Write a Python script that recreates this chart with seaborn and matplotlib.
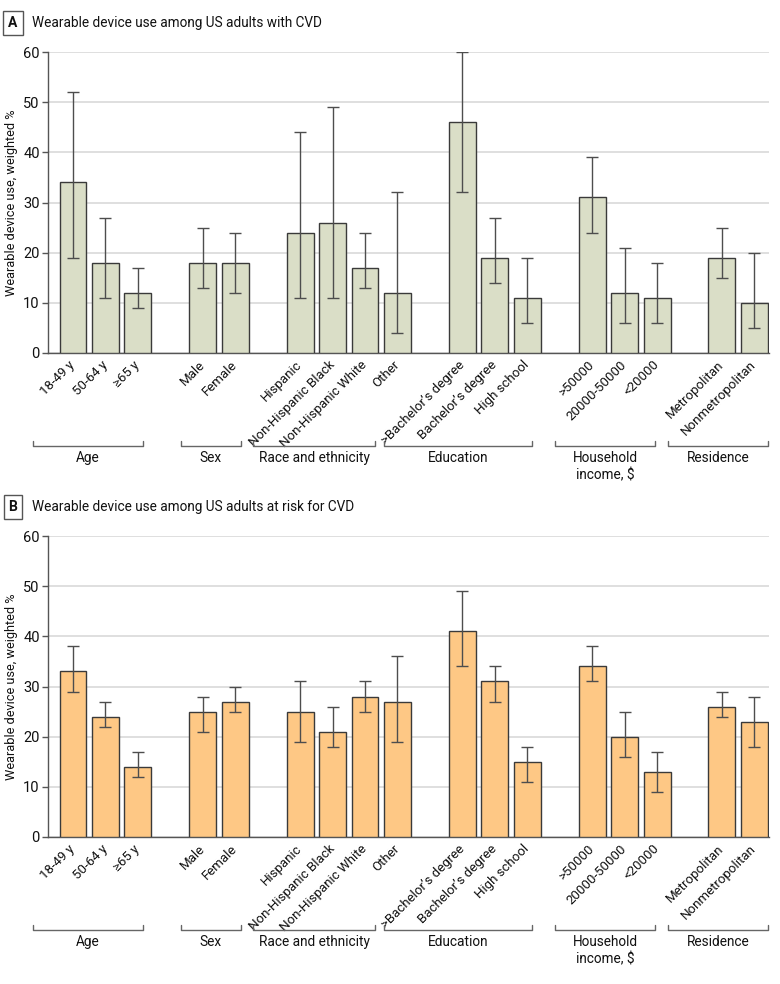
import matplotlib
matplotlib.use('Agg')
import matplotlib.pyplot as plt
import matplotlib.transforms as mtransforms
import seaborn as sns
import pandas as pd

# 分组与类别
groups = ['Age', 'Sex', 'Race and ethnicity', 'Education', 'Household\nincome, $', 'Residence']
group_items = [
    ['18-49 y', '50-64 y', '≥65 y'],
    ['Male', 'Female'],
    ['Hispanic', 'Non-Hispanic Black', 'Non-Hispanic White', 'Other'],
    ['>Bachelor’s degree', 'Bachelor’s degree', 'High school'],
    ['>50000', '20000-50000', '<20000'],
    ['Metropolitan', 'Nonmetropolitan'],
]

# A: adults with CVD
cvd_pct = [34, 18, 12, 18, 18, 24, 26, 17, 12, 46, 19, 11, 31, 12, 11, 19, 10]
cvd_low = [19, 11, 9, 13, 12, 11, 11, 13, 4, 32, 14, 6, 24, 6, 6, 15, 5]
cvd_high = [52, 27, 17, 25, 24, 44, 49, 24, 32, 60, 27, 19, 39, 21, 18, 25, 20]

# B: adults at risk for CVD
risk_pct = [33, 24, 14, 25, 27, 25, 21, 28, 27, 41, 31, 15, 34, 20, 13, 26, 23]
risk_low = [29, 22, 12, 21, 25, 19, 18, 25, 19, 34, 27, 11, 31, 16, 9, 24, 18]
risk_high = [38, 27, 17, 28, 30, 31, 26, 31, 36, 49, 34, 18, 38, 25, 17, 29, 28]

# 分组括号的横向范围（数据坐标）
bracket_span = [(-1.23, 2.15), (3.32, 5.17), (5.54, 9.32), (9.6, 14.15), (14.86, 17.94), (18.34, 21.42)]

sns.set_theme(style='white')
FONT = ['Roboto', 'DejaVu Sans']
plt.rcParams['font.family'] = FONT
TXT = '#111111'

# 类别顺序，组间插入空位
order = []
labels = []
for gi, items in enumerate(group_items):
    if gi > 0:
        order.append(' ' * gi)
    order += items
    labels += items
pos = [order.index(lab) for lab in labels]


def draw_panel(ax, pct, low, high, color, letter, title, fig):
    df = pd.DataFrame({'label': labels, 'pct': pct})
    sns.barplot(data=df, x='label', y='pct', order=order, color=color, saturation=1,
                edgecolor='#3a3a3a', linewidth=1, width=0.83, ax=ax, zorder=3)
    yerr = [[p - l for p, l in zip(pct, low)], [h - p for p, h in zip(pct, high)]]
    ax.errorbar(pos, pct, yerr=yerr, fmt='none', ecolor='#4d4d4d', elinewidth=1,
                capsize=4.3, capthick=1, zorder=4)

    ax.set_xlim(-0.77, 21.45)
    ax.set_ylim(0, 60)
    ax.set_yticks(range(0, 61, 10))
    ax.set_xticks(pos)
    ax.set_xticklabels(labels, rotation=45, ha='right', va='center',
                       rotation_mode='anchor', fontsize=9.5, color=TXT)
    ax.tick_params(axis='x', length=0, pad=7)
    ax.tick_params(axis='y', length=4, width=1, color='#555555', labelsize=10.5,
                   labelcolor=TXT, pad=2, left=True)
    ax.set_xlabel('')
    ax.set_ylabel('Wearable device use, weighted %', fontsize=9.2, color=TXT)
    ax.yaxis.set_label_coords(-30 / 721, 0.5)

    for s in ['top', 'right']:
        ax.spines[s].set_visible(False)
    for s in ['left', 'bottom']:
        ax.spines[s].set_color('#555555')
        ax.spines[s].set_linewidth(1)
    ax.grid(axis='y', color='#dcdcdc', linewidth=1.3, zorder=0)
    ax.set_axisbelow(True)

    # 分组括号
    trans = mtransforms.blended_transform_factory(ax.transData, ax.transAxes)
    for (x0, x1), name in zip(bracket_span, groups):
        ax.plot([x0, x0, x1, x1], [-0.293, -0.309, -0.309, -0.293], color='#666666',
                linewidth=1, transform=trans, clip_on=False)
        ax.text((x0 + x1) / 2, -0.327, name, transform=trans, ha='center', va='top',
                fontsize=9.8, linespacing=1.25, color=TXT)

    # 面板标题
    bb = ax.get_position()
    ty = bb.y1 + 29 / 984
    fig.text(13 / 780, ty, letter, ha='center', va='center', fontsize=10, fontweight='bold',
             color=TXT,
             bbox=dict(boxstyle='square,pad=0.35', facecolor='white', edgecolor='#555555', linewidth=1))
    fig.text(32 / 780, ty, title, ha='left', va='center', fontsize=9.8, color=TXT)


fig = plt.figure(figsize=(7.8, 9.84), dpi=100)
ax_a = fig.add_axes([48 / 780, 1 - 353 / 984, 721 / 780, 301 / 984])
ax_b = fig.add_axes([48 / 780, 1 - 837 / 984, 721 / 780, 301 / 984])

draw_panel(ax_a, cvd_pct, cvd_low, cvd_high, '#dadec7', 'A',
           'Wearable device use among US adults with CVD', fig)
draw_panel(ax_b, risk_pct, risk_low, risk_high, '#fec885', 'B',
           'Wearable device use among US adults at risk for CVD', fig)

plt.savefig('out.png', dpi=100)
plt.close()
